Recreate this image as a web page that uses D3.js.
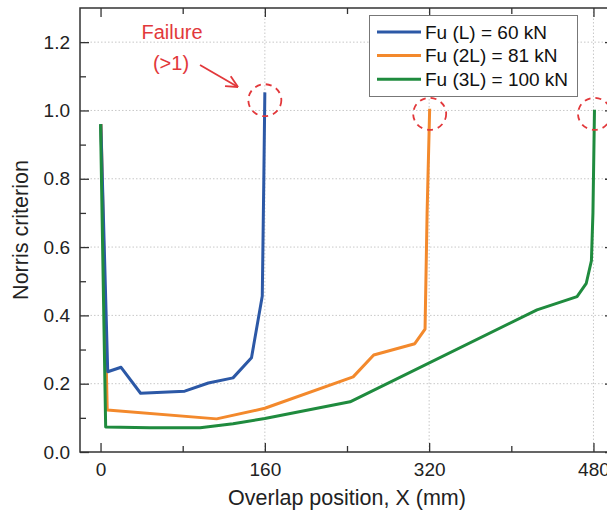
<!DOCTYPE html>
<html>
<head>
<meta charset="utf-8">
<script src="https://cdn.jsdelivr.net/npm/d3@7"></script>
<style>
  html, body { margin: 0; padding: 0; background: #fff; }
  svg { display: block; font-family: "Liberation Sans", Arial, Helvetica, sans-serif; }
</style>
</head>
<body>
<svg id="chart" width="607" height="513"></svg>
<script>
// Norris criterion along the overlap, for three overlap lengths
const seriesNames = ["Fu (L) = 60 kN", "Fu (2L) = 81 kN", "Fu (3L) = 100 kN"];
const seriesColors = ["#2c58a6", "#f3892c", "#1f8b3e"];

const lengthL = [
  [0.3, 0.96], [7, 0.235], [20, 0.248], [39, 0.172], [55, 0.174], [82, 0.178],
  [105, 0.202], [129, 0.217], [147, 0.276], [157.5, 0.457], [159, 0.8], [160, 1.053]
];
const length2L = [
  [0.5, 0.96], [6.5, 0.123], [113, 0.097], [160, 0.128], [246, 0.22], [266, 0.284],
  [306, 0.317], [316, 0.36], [318, 0.7], [320.5, 1.005]
];
const length3L = [
  [0, 0.96], [5, 0.073], [48, 0.071], [97, 0.071], [129, 0.083], [160, 0.098],
  [243, 0.147], [425, 0.416], [464, 0.455], [473, 0.494], [478, 0.56],
  [479.5, 0.7], [481, 1.002]
];
const seriesData = [lengthL, length2L, length3L];

// failure points highlighted with dashed rings
const failurePoints = [[160, 1.03], [320.5, 0.99], [481, 0.99]];

const xMajorTicks = [0, 160, 320, 480];
const xMinorTicks = [80, 240, 400];
const yMajorTicks = [0.0, 0.2, 0.4, 0.6, 0.8, 1.0, 1.2];
const yMinorTicks = [0.1, 0.3, 0.5, 0.7, 0.9, 1.1];

const svg = d3.select("#chart");
const plotLeft = 80, plotRight = 614, plotTop = 8, plotBottom = 452;

const x = d3.scaleLinear().domain([-20, 500]).range([plotLeft, plotRight]);
const y = d3.scaleLinear().domain([0, 1.3]).range([plotBottom, plotTop]);

// dotted grid
const grid = svg.append("g").attr("stroke", "#c8c8c8").attr("stroke-width", 1)
  .attr("stroke-dasharray", "1.5,2");
yMajorTicks.filter(v => v > 0).forEach(v => {
  grid.append("line").attr("x1", plotLeft).attr("x2", plotRight).attr("y1", y(v)).attr("y2", y(v));
});
xMajorTicks.filter(v => v > 0).forEach(v => {
  grid.append("line").attr("x1", x(v)).attr("x2", x(v)).attr("y1", plotTop).attr("y2", plotBottom);
});

// axes with inward ticks on all four sides
const fontSize = 19;
function styleAxis(g) {
  g.select(".domain").remove();
  g.selectAll("line").attr("stroke", "#333").attr("stroke-width", 1.3);
  g.selectAll("text").attr("fill", "#222").style("font-size", fontSize + "px");
}
svg.append("g").attr("transform", `translate(0,${plotBottom})`)
  .call(d3.axisBottom(x).tickValues(xMajorTicks).tickSize(-9).tickPadding(11).tickFormat(d3.format("d")))
  .call(styleAxis);
svg.append("g").attr("transform", `translate(0,${plotBottom})`)
  .call(d3.axisBottom(x).tickValues(xMinorTicks).tickSize(-6).tickFormat(""))
  .call(styleAxis);
svg.append("g").attr("transform", `translate(0,${plotTop})`)
  .call(d3.axisTop(x).tickValues(xMajorTicks).tickSize(-9).tickFormat(""))
  .call(styleAxis);
svg.append("g").attr("transform", `translate(0,${plotTop})`)
  .call(d3.axisTop(x).tickValues(xMinorTicks).tickSize(-6).tickFormat(""))
  .call(styleAxis);
svg.append("g").attr("transform", `translate(${plotLeft},0)`)
  .call(d3.axisLeft(y).tickValues(yMajorTicks).tickSize(-9).tickPadding(10).tickFormat(d3.format(".1f")))
  .call(styleAxis);
svg.append("g").attr("transform", `translate(${plotLeft},0)`)
  .call(d3.axisLeft(y).tickValues(yMinorTicks).tickSize(-6).tickFormat(""))
  .call(styleAxis);
svg.append("g").attr("transform", `translate(${plotRight},0)`)
  .call(d3.axisRight(y).tickValues(yMajorTicks).tickSize(-9).tickFormat(""))
  .call(styleAxis);
svg.append("g").attr("transform", `translate(${plotRight},0)`)
  .call(d3.axisRight(y).tickValues(yMinorTicks).tickSize(-6).tickFormat(""))
  .call(styleAxis);

// frame
svg.append("rect").attr("x", plotLeft).attr("y", plotTop)
  .attr("width", plotRight - plotLeft).attr("height", plotBottom - plotTop)
  .attr("fill", "none").attr("stroke", "#333").attr("stroke-width", 1.5);

// curves: 2L underneath, then L, then 3L on top
const line = d3.line().x(d => x(d[0])).y(d => y(d[1]));
[1, 0, 2].forEach(i => {
  svg.append("path").datum(seriesData[i])
    .attr("d", line)
    .attr("fill", "none")
    .attr("stroke", seriesColors[i])
    .attr("stroke-width", 3)
    .attr("stroke-linejoin", "round");
});

// failure annotation
const red = "#e2383b";
svg.selectAll(".ring").data(failurePoints).enter().append("ellipse")
  .attr("cx", d => x(d[0])).attr("cy", d => y(d[1]))
  .attr("rx", 16.5).attr("ry", 16)
  .attr("fill", "none").attr("stroke", red).attr("stroke-width", 1.8)
  .attr("stroke-dasharray", "6,5");

svg.append("text").attr("x", 172).attr("y", 39).attr("text-anchor", "middle")
  .attr("fill", red).style("font-size", "20px").text("Failure");
svg.append("text").attr("x", 171).attr("y", 70).attr("text-anchor", "middle")
  .attr("fill", red).style("font-size", "20px").text("(>1)");

const arrowStart = [200, 65], arrowEnd = [238, 87];
svg.append("line")
  .attr("x1", arrowStart[0]).attr("y1", arrowStart[1])
  .attr("x2", arrowEnd[0]).attr("y2", arrowEnd[1])
  .attr("stroke", red).attr("stroke-width", 1.8);
const ang = Math.atan2(arrowEnd[1] - arrowStart[1], arrowEnd[0] - arrowStart[0]);
[-0.45, 0.45].forEach(a => {
  svg.append("line")
    .attr("x1", arrowEnd[0]).attr("y1", arrowEnd[1])
    .attr("x2", arrowEnd[0] - 13 * Math.cos(ang + a))
    .attr("y2", arrowEnd[1] - 13 * Math.sin(ang + a))
    .attr("stroke", red).attr("stroke-width", 1.8);
});

// legend
const legend = svg.append("g");
legend.append("rect").attr("x", 369.5).attr("y", 15.5).attr("width", 208).attr("height", 81)
  .attr("fill", "#fff").attr("stroke", "#777").attr("stroke-width", 1);
seriesNames.forEach((name, i) => {
  const cy = 32 + i * 23.6;
  legend.append("line").attr("x1", 377).attr("x2", 421).attr("y1", cy).attr("y2", cy)
    .attr("stroke", seriesColors[i]).attr("stroke-width", 3);
  legend.append("text").attr("x", 425).attr("y", cy).attr("dy", "0.35em")
    .attr("fill", "#111").style("font-size", "19px").text(name);
});

// axis titles
svg.append("text").attr("x", (plotLeft + plotRight) / 2).attr("y", 505).attr("text-anchor", "middle")
  .attr("fill", "#222").style("font-size", "21.5px").text("Overlap position, X (mm)");
svg.append("text").attr("transform", `translate(28,${(plotTop + plotBottom) / 2}) rotate(-90)`)
  .attr("text-anchor", "middle").attr("fill", "#222").style("font-size", "21.5px")
  .text("Norris criterion");
</script>
</body>
</html>
